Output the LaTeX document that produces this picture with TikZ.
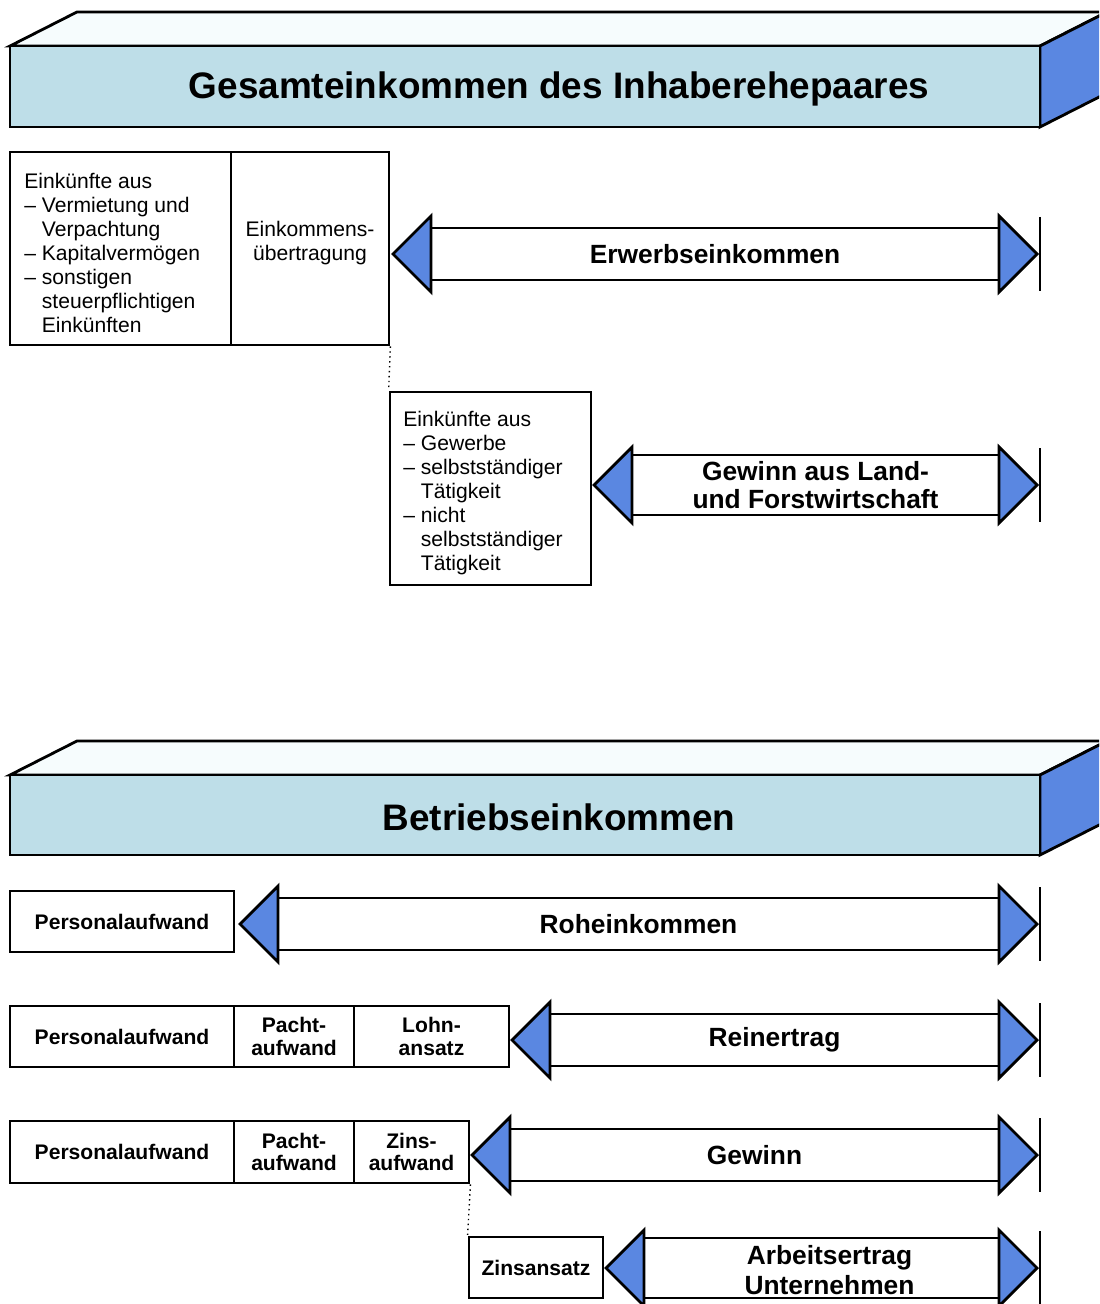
\documentclass[tikz,border=0pt]{standalone}
\usepackage{fontspec}
\setmainfont{Liberation Sans}
\usepackage{xcolor}
\usetikzlibrary{positioning, calc}

\definecolor{frontblue}{RGB}{190,222,232}
\definecolor{topwhite}{RGB}{246,252,253}
\definecolor{sideblue}{RGB}{90,135,225}

\newcommand{\ind}{\hphantom{-- }}

\tikzset{
  frame/.style={draw=black, line width=1.6pt, line join=miter},
  headtri/.style={frame, fill=sideblue},
  cell/.style={frame, fill=white, inner sep=0pt, align=center,
    font=\bfseries\fontsize{12}{13}\selectfont},
  textbox/.style={frame, fill=white, inner sep=0pt},
  boxtext/.style={align=left, inner sep=0pt, font=\fontsize{12}{13.6}\selectfont},
  bandlabel/.style={align=center, inner sep=0pt,
    font=\bfseries\fontsize{15}{15.8}\selectfont},
  titlelabel/.style={inner sep=0pt, font=\bfseries\fontsize{21}{24}\selectfont},
}

\begin{document}
\begin{tikzpicture}[x=0.02cm, y=-0.02cm]
\clip (0,0) rectangle (1099,1304);

% 3d title bars
\foreach \nm/\yt/\yb/\txt in {
  gesamt/46/127/{Gesamteinkommen des Inhaberehepaares},
  betrieb/775/855/{Betriebseinkommen}}
{
  \draw[frame, fill=topwhite] (10,\yt) -- (77,\yt-34) -- (1107,\yt-34) -- (1040,\yt) -- cycle;
  \draw[frame, fill=sideblue] (1040,\yt) -- (1107,\yt-34) -- (1107,\yb-34) -- (1040,\yb) -- cycle;
  \draw[frame, fill=frontblue] (10,\yt) rectangle (1040,\yb);
  \node[titlelabel] (\nm) at (559,{(\yt+\yb)/2+2.5}) {\txt};
}

% upper boxes
\node[textbox, minimum width=4.42cm, minimum height=3.86cm] (einkuenfte) at (120.5,248.5) {};
\node[textbox, minimum width=3.16cm, minimum height=3.86cm] (uebertrag) at (310,248.5) {};
\node[textbox, minimum width=4.02cm, minimum height=3.86cm] (gewerbe) at (490.5,488.5) {};

\node[boxtext, anchor=west] (einkuenftetxt) at (24,253)
  {Einkünfte aus\\-- Vermietung und\\\ind Verpachtung\\-- Kapitalvermögen\\-- sonstigen\\\ind steuerpflichtigen\\\ind Einkünften};
\node[boxtext, align=center] (uebertragtxt) at (310,243) {Einkommens-\\übertragung};
\node[boxtext, anchor=west] (gewerbetxt) at (403,493)
  {Einkünfte aus\\-- Gewerbe\\-- selbstständiger\\\ind Tätigkeit\\-- nicht\\\ind selbstständiger\\\ind Tätigkeit};

% lower boxes
\foreach \nm/\x/\y/\w/\h/\txt in {
  pa1/122/921.5/224/61/{Personalaufwand},
  pa2/122/1036.5/224/61/{Personalaufwand},
  pacht2/294/1036.5/120/61/{Pacht-\\aufwand},
  lohn/431.5/1036.5/155/61/{Lohn-\\ansatz},
  pa3/122/1152/224/62/{Personalaufwand},
  pacht3/294/1152/120/62/{Pacht-\\aufwand},
  zinsauf/411.5/1152/115/62/{Zins-\\aufwand},
  zinsansatz/536/1267.5/134/61/{Zinsansatz}}
{
  \node[cell, minimum width=\w*0.02cm, minimum height=\h*0.02cm] (\nm) at (\x,\y) {\txt};
}

% double arrows
\foreach \nm/\y/\xl/\hs/\dx/\dy/\txt in {
  erwerb/254/393/26/0/0/{Erwerbseinkommen},
  land/485/594/30/0/0/{Gewinn aus Land-\\und Forstwirtschaft},
  roh/924/240/26/0/0/{Roheinkommen},
  rein/1040/512/26/0/0/{Reinertrag},
  gewinn/1155/472/26/0/0/{Gewinn},
  arbeit/1268/606/30/8/2/{Arbeitsertrag\\[1pt]Unternehmen}}
{
  \pgfmathsetmacro\xb{\xl+38}
  \draw[frame, fill=white] (\xb,\y-\hs) rectangle (999,\y+\hs);
  \draw[headtri] (\xl,\y) -- (\xb,\y-38) -- (\xb,\y+38) -- cycle;
  \draw[headtri] (1037,\y) -- (999,\y-38) -- (999,\y+38) -- cycle;
  \draw[frame] (1040,\y-37) -- (1040,\y+37);
  \node[bandlabel] (\nm) at ({(\xb+999)/2+\dx},\y+\dy) {\txt};
}

% dotted links
\draw[dotted, line width=0.8pt] (uebertrag.south east) -- (gewerbe.north west);
\draw[dotted, line width=0.8pt] (zinsauf.south east) -- (zinsansatz.north west);
\end{tikzpicture}
\end{document}
